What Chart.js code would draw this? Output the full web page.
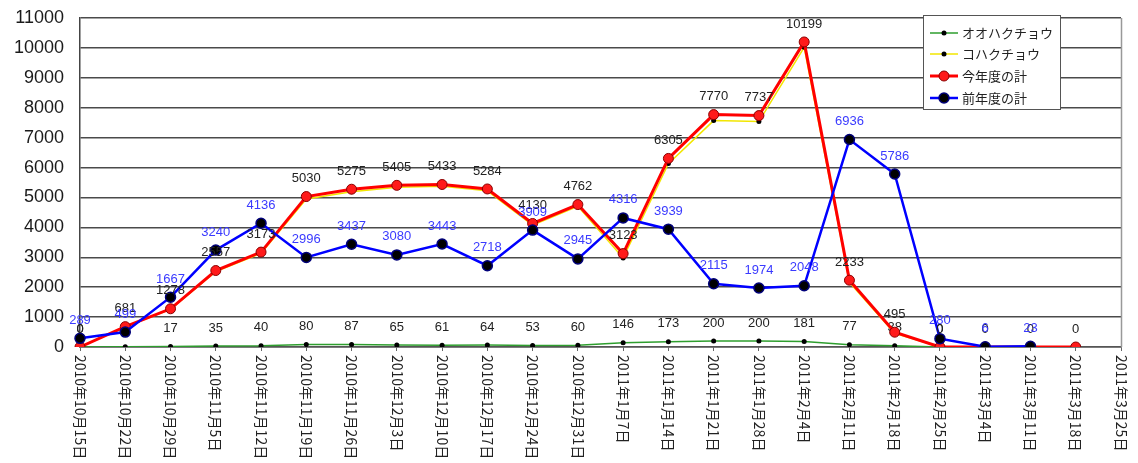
<!DOCTYPE html>
<html><head><meta charset="utf-8">
<script src="https://cdn.jsdelivr.net/npm/chart.js@4/dist/chart.umd.min.js"></script>
<style>html,body{margin:0;padding:0;background:#fff}canvas{display:block}</style>
</head><body>
<canvas id="c" width="1138" height="463"></canvas>
<script>
const categories = ['2010年10月15日','2010年10月22日','2010年10月29日','2010年11月5日','2010年11月12日','2010年11月19日','2010年11月26日','2010年12月3日','2010年12月10日','2010年12月17日','2010年12月24日','2010年12月31日','2011年1月7日','2011年1月14日','2011年1月21日','2011年1月28日','2011年2月4日','2011年2月11日','2011年2月18日','2011年2月25日','2011年3月4日','2011年3月11日','2011年3月18日','2011年3月25日'];
const ooHakuchou = [0, 8, 17, 35, 40, 80, 87, 65, 61, 64, 53, 60, 146, 173, 200, 200, 181, 77, 38, 0, null, null, null, null];
const koHakuchou = [0, 673, 1261, 2522, 3133, 4950, 5188, 5340, 5372, 5220, 4077, 4702, 2977, 6132, 7570, 7537, 10018, 2156, 457, 0, 0, 0, 0, null];
const thisYearTotal = [0, 681, 1278, 2557, 3173, 5030, 5275, 5405, 5433, 5284, 4130, 4762, 3123, 6305, 7770, 7737, 10199, 2233, 495, 0, 0, 0, 0, null];
const lastYearTotal = [289, 499, 1667, 3240, 4136, 2996, 3437, 3080, 3443, 2718, 3909, 2945, 4316, 3939, 2115, 1974, 2048, 6936, 5786, 280, 6, 23, null, null];
const seriesNames = ['オオハクチョウ', 'コハクチョウ', '今年度の計', '前年度の計'];
const yMax = 11000, yStep = 1000;

const LBL_FONT = '13px "Liberation Sans", Arial, sans-serif';
const CJK = '"Noto Sans CJK JP", "Noto Sans", sans-serif';

function drawValueLabels(chart, di, color) {
  const ctx = chart.ctx;
  const meta = chart.getDatasetMeta(di);
  const data = chart.data.datasets[di].data;
  ctx.save();
  ctx.font = LBL_FONT;
  ctx.fillStyle = color;
  ctx.textAlign = 'center';
  ctx.textBaseline = 'middle';
  meta.data.forEach((pt, i) => {
    if (data[i] == null) return;
    ctx.fillText(String(data[i]), pt.x, pt.y - 18);
  });
  ctx.restore();
}

const styles = [
  {line:'#2e9e2e', w:1.5, r:2.5, fill:'#000', border:'#000', bw:0},
  {line:'#f2e600', w:1.5, r:2.5, fill:'#000', border:'#000', bw:0},
  {line:'#ff0000', w:3, r:5, fill:'#ff1a1a', border:'#8a0000', bw:1},
  {line:'#0000ff', w:2.5, r:5, fill:'#000000', border:'#00007a', bw:1.5}
];

const customPlugin = {
  id: 'custom',
  beforeDatasetsDraw(chart) {
    drawValueLabels(chart, 0, '#222');
  },
  afterDatasetsDraw(chart) {
    drawValueLabels(chart, 2, '#222');
    drawValueLabels(chart, 3, '#3a3aff');
  },
  afterDraw(chart) {
    const ctx = chart.ctx;
    const ca = chart.chartArea;
    const xs = chart.scales.x;
    ctx.save();
    ctx.strokeStyle = '#999';
    ctx.lineWidth = 1.5;
    ctx.beginPath();
    ctx.moveTo(ca.right + 0.5, ca.top);
    ctx.lineTo(ca.right + 0.5, ca.bottom);
    ctx.stroke();
    ctx.restore();
    ctx.save();
    ctx.font = '14px ' + CJK;
    ctx.fillStyle = '#222';
    ctx.textAlign = 'left';
    ctx.textBaseline = 'middle';
    categories.forEach((c, i) => {
      const x = xs.getPixelForValue(i);
      ctx.save();
      ctx.translate(x, ca.bottom + 8);
      ctx.rotate(Math.PI / 2);
      ctx.fillText(c, 0, 0);
      ctx.restore();
    });
    ctx.restore();
    const lx = 923, ly = 15, lw = 137, lh = 94;
    ctx.save();
    ctx.fillStyle = '#fff';
    ctx.fillRect(lx, ly, lw, lh);
    ctx.strokeStyle = '#555';
    ctx.lineWidth = 1;
    ctx.strokeRect(lx + 0.5, ly + 0.5, lw, lh);
    const rows = [33, 54, 76, 98];
    seriesNames.forEach((name, i) => {
      const s = styles[i];
      const y = rows[i];
      ctx.strokeStyle = s.line;
      ctx.lineWidth = s.w;
      ctx.beginPath();
      ctx.moveTo(930, y);
      ctx.lineTo(958, y);
      ctx.stroke();
      ctx.beginPath();
      ctx.arc(944, y, s.r, 0, Math.PI * 2);
      ctx.fillStyle = s.fill;
      ctx.fill();
      if (s.bw) { ctx.strokeStyle = s.border; ctx.lineWidth = s.bw; ctx.stroke(); }
      ctx.fillStyle = '#222';
      ctx.font = '13px ' + CJK;
      ctx.textAlign = 'left';
      ctx.textBaseline = 'middle';
      ctx.fillText(name, 962, y);
    });
    ctx.restore();
  }
};

const allSeries = [ooHakuchou, koHakuchou, thisYearTotal, lastYearTotal];
const orders = [3, 2, 1, 0];
const datasets = allSeries.map((d, i) => ({
  label: seriesNames[i],
  data: d,
  borderColor: styles[i].line,
  borderWidth: styles[i].w,
  pointRadius: styles[i].r,
  pointBackgroundColor: styles[i].fill,
  pointBorderColor: styles[i].border,
  pointBorderWidth: styles[i].bw,
  tension: 0,
  spanGaps: false,
  order: orders[i]
}));

new Chart(document.getElementById('c'), {
  type: 'line',
  data: { labels: categories, datasets },
  options: {
    responsive: false,
    animation: false,
    events: [],
    layout: { padding: { left: 8, right: 17, top: 18, bottom: 0 } },
    plugins: { legend: { display: false }, tooltip: { enabled: false } },
    scales: {
      x: {
        offset: false,
        grid: { display: true, drawOnChartArea: false, drawTicks: true, tickLength: 4, color: '#666' },
        border: { display: true, color: '#555', width: 1.5 },
        ticks: { display: false },
        afterFit(s) { s.height = 116; }
      },
      y: {
        min: 0, max: yMax,
        ticks: { stepSize: yStep, padding: 0, color: '#1a1a1a', font: { family: '"Liberation Sans", Arial, sans-serif', size: 18 }, callback: (v) => String(v) },
        grid: { color: '#4a4a4a', lineWidth: 1.5, drawTicks: true, tickLength: 16, tickColor: 'rgba(0,0,0,0)' },
        border: { display: true, color: '#444', width: 1.5 },
        afterFit(s) { s.width = 72; }
      }
    }
  },
  plugins: [customPlugin]
});
</script>
</body></html>
